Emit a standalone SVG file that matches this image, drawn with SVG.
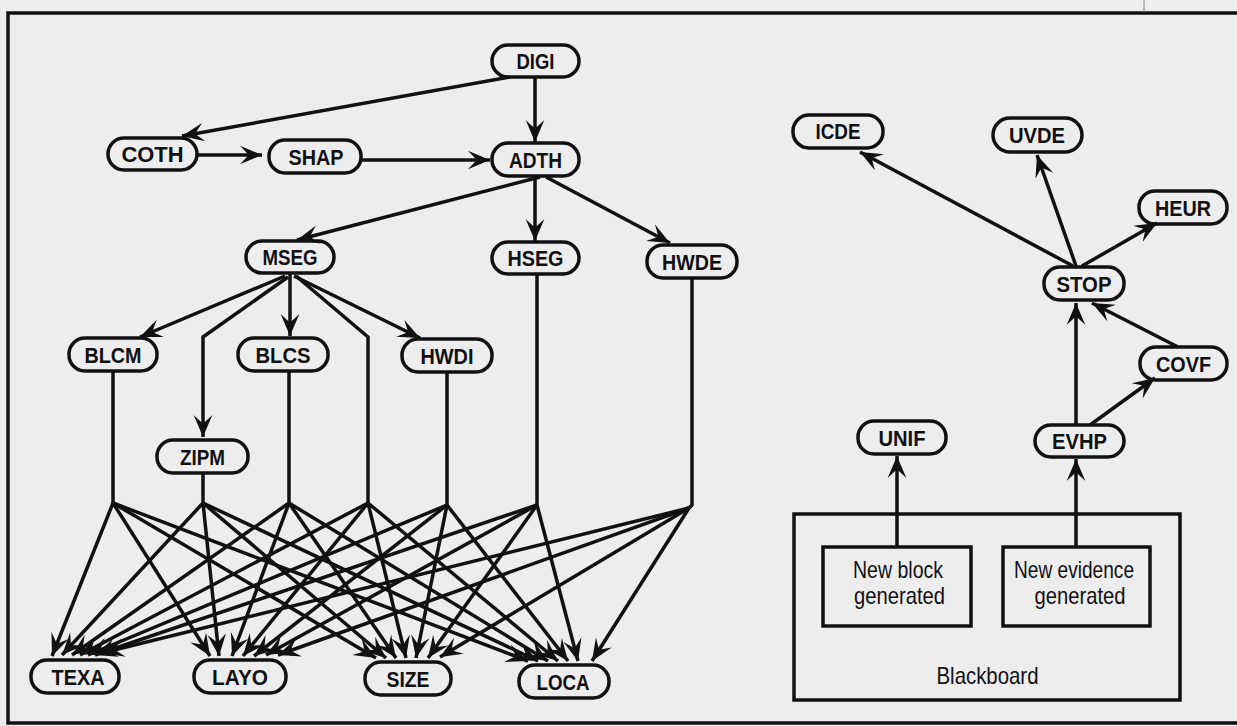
<svg xmlns="http://www.w3.org/2000/svg" width="1237" height="726" viewBox="0 0 1237 726">
<style>
.bg{fill:#ededed}
.frame{fill:none;stroke:#111;stroke-width:3.5}
.pill{fill:none;stroke:#111;stroke-width:3.5}
.lbl{font-family:"Liberation Sans",Arial,sans-serif;font-weight:bold;font-size:22px;fill:#111;text-anchor:middle}
.txt{font-family:"Liberation Sans",Arial,sans-serif;font-size:24px;fill:#111;text-anchor:middle}
.e{fill:none;stroke:#111;stroke-width:3.5;stroke-linejoin:miter}
.a{marker-end:url(#ah)}
</style>
<defs>
<marker id="ah" markerUnits="userSpaceOnUse" markerWidth="26" markerHeight="22" viewBox="-21 -10 23 20" refX="0" refY="0" orient="auto">
<path d="M0,0 L-20,-8.5 L-12,0 L-20,8.5 Z" fill="#111"/>
</marker>
</defs>
<rect class="bg" x="0" y="0" width="1237" height="726"/>
<g id="frame">
<path class="frame" d="M1237,13 H8 V723 H1237"/>
<line x1="1144" y1="0" x2="1144" y2="12" stroke="#888" stroke-width="1"/>
</g>
<g id="connectors">
<line class="e a" x1="510" y1="77" x2="182" y2="136"/>
<line class="e a" x1="535" y1="77" x2="535" y2="142"/>
<line class="e a" x1="197" y1="155" x2="262" y2="155"/>
<line class="e a" x1="361" y1="160" x2="490" y2="160"/>
<line class="e a" x1="540" y1="177" x2="297" y2="240"/>
<line class="e a" x1="535" y1="176" x2="535" y2="241"/>
<line class="e a" x1="546" y1="177" x2="670" y2="243"/>
<line class="e a" x1="285" y1="276" x2="140" y2="337"/>
<polyline class="e a" points="288,277 203,337 203,437"/>
<line class="e a" x1="290" y1="274" x2="290" y2="336"/>
<line class="e a" x1="294" y1="276" x2="420" y2="338"/>
<polyline class="e" points="296,276 368,337 368,503"/>
<line class="e" x1="113" y1="371" x2="113" y2="503"/>
<line class="e" x1="203" y1="473" x2="203" y2="503"/>
<line class="e" x1="289" y1="371" x2="289" y2="503"/>
<line class="e" x1="447" y1="372" x2="447" y2="505"/>
<line class="e" x1="537" y1="274" x2="537" y2="505"/>
<polyline class="e" points="692,278 692,505 689,508"/>
<line class="e a" x1="113" y1="503" x2="52" y2="656"/>
<line class="e a" x1="203" y1="503" x2="62" y2="655"/>
<line class="e a" x1="289" y1="503" x2="72" y2="655"/>
<line class="e a" x1="368" y1="503" x2="80" y2="655"/>
<line class="e a" x1="447" y1="505" x2="88" y2="655"/>
<line class="e a" x1="537" y1="505" x2="95" y2="655"/>
<line class="e a" x1="689" y1="508" x2="102" y2="653"/>
<line class="e a" x1="113" y1="503" x2="210" y2="656"/>
<line class="e a" x1="203" y1="503" x2="219" y2="656"/>
<line class="e a" x1="289" y1="503" x2="232" y2="656"/>
<line class="e a" x1="368" y1="503" x2="243" y2="656"/>
<line class="e a" x1="447" y1="505" x2="254" y2="656"/>
<line class="e a" x1="537" y1="505" x2="266" y2="655"/>
<line class="e a" x1="689" y1="508" x2="278" y2="655"/>
<line class="e a" x1="113" y1="503" x2="376" y2="658"/>
<line class="e a" x1="203" y1="503" x2="386" y2="658"/>
<line class="e a" x1="289" y1="503" x2="396" y2="658"/>
<line class="e a" x1="368" y1="503" x2="406" y2="658"/>
<line class="e a" x1="447" y1="505" x2="416" y2="658"/>
<line class="e a" x1="537" y1="505" x2="428" y2="658"/>
<line class="e a" x1="689" y1="508" x2="440" y2="657"/>
<line class="e a" x1="113" y1="503" x2="528" y2="661"/>
<line class="e a" x1="203" y1="503" x2="538" y2="661"/>
<line class="e a" x1="289" y1="503" x2="548" y2="661"/>
<line class="e a" x1="368" y1="503" x2="558" y2="661"/>
<line class="e a" x1="447" y1="505" x2="568" y2="661"/>
<line class="e a" x1="537" y1="505" x2="578" y2="661"/>
<line class="e a" x1="689" y1="508" x2="592" y2="661"/>
<line class="e a" x1="1073" y1="266" x2="860" y2="152"/>
<line class="e a" x1="1076" y1="266" x2="1037" y2="155"/>
<line class="e a" x1="1082" y1="266" x2="1157" y2="223"/>
<line class="e a" x1="1178" y1="347" x2="1092" y2="303"/>
<line class="e a" x1="1076" y1="425" x2="1076" y2="303"/>
<line class="e a" x1="1090" y1="425" x2="1155" y2="378"/>
<line class="e a" x1="897" y1="547" x2="897" y2="456"/>
<line class="e a" x1="1076" y1="547" x2="1076" y2="459"/>
</g>
<g id="DIGI"><rect class="pill" x="492" y="45" width="87" height="32" rx="16"/><text class="lbl" x="535.5" y="69" textLength="38" lengthAdjust="spacingAndGlyphs">DIGI</text></g>
<g id="COTH"><rect class="pill" x="108" y="138" width="89" height="32" rx="16"/><text class="lbl" x="152.5" y="162" textLength="62" lengthAdjust="spacingAndGlyphs">COTH</text></g>
<g id="SHAP"><rect class="pill" x="269" y="140" width="92" height="33" rx="16"/><text class="lbl" x="316" y="165" textLength="55" lengthAdjust="spacingAndGlyphs">SHAP</text></g>
<g id="ADTH"><rect class="pill" x="492" y="143" width="87" height="33" rx="16"/><text class="lbl" x="535.5" y="168" textLength="53" lengthAdjust="spacingAndGlyphs">ADTH</text></g>
<g id="MSEG"><rect class="pill" x="246" y="241" width="88" height="32" rx="16"/><text class="lbl" x="290" y="265" textLength="55" lengthAdjust="spacingAndGlyphs">MSEG</text></g>
<g id="HSEG"><rect class="pill" x="492" y="242" width="87" height="32" rx="16"/><text class="lbl" x="535.5" y="266" textLength="56" lengthAdjust="spacingAndGlyphs">HSEG</text></g>
<g id="HWDE"><rect class="pill" x="647" y="245" width="90" height="33" rx="16"/><text class="lbl" x="692" y="270" textLength="60" lengthAdjust="spacingAndGlyphs">HWDE</text></g>
<g id="BLCM"><rect class="pill" x="69" y="338" width="88" height="33" rx="16"/><text class="lbl" x="113" y="363" textLength="57" lengthAdjust="spacingAndGlyphs">BLCM</text></g>
<g id="BLCS"><rect class="pill" x="238" y="338" width="90" height="33" rx="16"/><text class="lbl" x="283" y="363" textLength="55" lengthAdjust="spacingAndGlyphs">BLCS</text></g>
<g id="HWDI"><rect class="pill" x="402" y="339" width="90" height="33" rx="16"/><text class="lbl" x="447" y="364" textLength="53" lengthAdjust="spacingAndGlyphs">HWDI</text></g>
<g id="ZIPM"><rect class="pill" x="157" y="440" width="91" height="33" rx="16"/><text class="lbl" x="202.5" y="465" textLength="45" lengthAdjust="spacingAndGlyphs">ZIPM</text></g>
<g id="TEXA"><rect class="pill" x="31" y="660" width="88" height="33" rx="16"/><text class="lbl" x="78" y="685" textLength="53" lengthAdjust="spacingAndGlyphs">TEXA</text></g>
<g id="LAYO"><rect class="pill" x="194" y="660" width="92" height="33" rx="16"/><text class="lbl" x="240" y="685" textLength="56" lengthAdjust="spacingAndGlyphs">LAYO</text></g>
<g id="SIZE"><rect class="pill" x="365" y="662" width="86" height="33" rx="16"/><text class="lbl" x="408" y="687" textLength="43" lengthAdjust="spacingAndGlyphs">SIZE</text></g>
<g id="LOCA"><rect class="pill" x="519" y="665" width="90" height="33" rx="16"/><text class="lbl" x="563" y="690" textLength="53" lengthAdjust="spacingAndGlyphs">LOCA</text></g>
<g id="ICDE"><rect class="pill" x="793" y="115" width="90" height="33" rx="16"/><text class="lbl" x="838" y="139" textLength="45" lengthAdjust="spacingAndGlyphs">ICDE</text></g>
<g id="UVDE"><rect class="pill" x="993" y="118" width="89" height="34" rx="17"/><text class="lbl" x="1037" y="143" textLength="56" lengthAdjust="spacingAndGlyphs">UVDE</text></g>
<g id="HEUR"><rect class="pill" x="1139" y="191" width="88" height="33" rx="16"/><text class="lbl" x="1183" y="216" textLength="56" lengthAdjust="spacingAndGlyphs">HEUR</text></g>
<g id="STOP"><rect class="pill" x="1044" y="267" width="80" height="33" rx="16"/><text class="lbl" x="1084" y="292" textLength="55" lengthAdjust="spacingAndGlyphs">STOP</text></g>
<g id="COVF"><rect class="pill" x="1140" y="347" width="87" height="33" rx="16"/><text class="lbl" x="1183.5" y="372" textLength="55" lengthAdjust="spacingAndGlyphs">COVF</text></g>
<g id="UNIF"><rect class="pill" x="858" y="421" width="88" height="33" rx="16"/><text class="lbl" x="902" y="446" textLength="47" lengthAdjust="spacingAndGlyphs">UNIF</text></g>
<g id="EVHP"><rect class="pill" x="1035" y="425" width="89" height="32" rx="16"/><text class="lbl" x="1079.5" y="449" textLength="55" lengthAdjust="spacingAndGlyphs">EVHP</text></g>
<g id="Blackboard">
<rect class="pill" x="794" y="514" width="386" height="186"/>
<text class="txt" x="987.5" y="684" textLength="102" lengthAdjust="spacingAndGlyphs">Blackboard</text>
</g>
<g id="NewBlock">
<rect class="pill" x="823" y="547" width="148" height="79"/>
<text class="txt" x="898" y="578" textLength="90" lengthAdjust="spacingAndGlyphs">New block</text>
<text class="txt" x="899.5" y="604" textLength="91" lengthAdjust="spacingAndGlyphs">generated</text>
</g>
<g id="NewEvidence">
<rect class="pill" x="1003" y="547" width="147" height="79"/>
<text class="txt" x="1074" y="578" textLength="120" lengthAdjust="spacingAndGlyphs">New evidence</text>
<text class="txt" x="1080" y="604" textLength="91" lengthAdjust="spacingAndGlyphs">generated</text>
</g>
</svg>
